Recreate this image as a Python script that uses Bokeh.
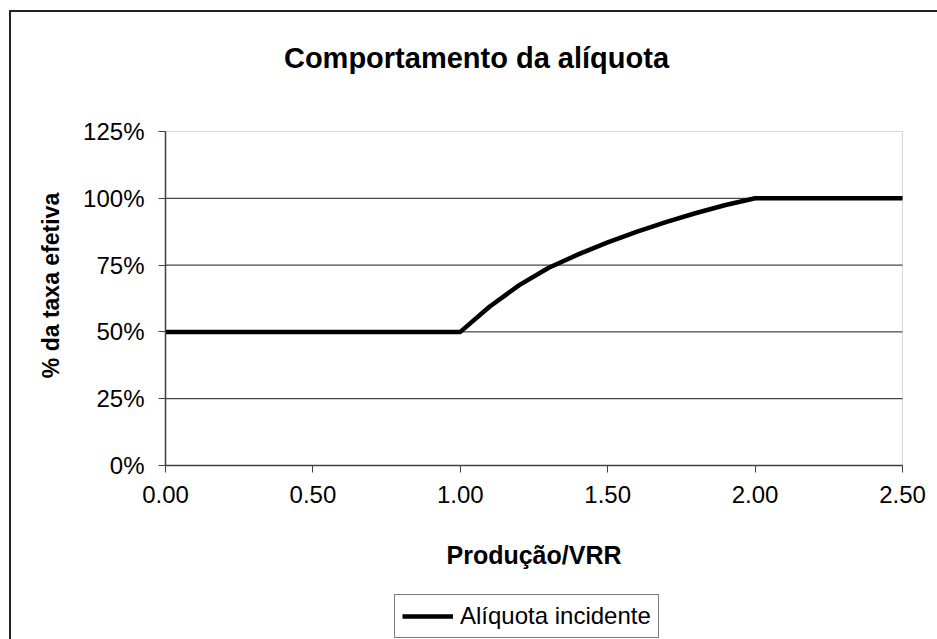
import math

from bokeh.plotting import figure
from bokeh.models import (Range1d, FixedTicker, NumeralTickFormatter,
                          Legend, LegendItem, Label, BoxAnnotation)
from bokeh.embed import file_html
from bokeh.resources import INLINE

# Produção / VRR ratio and the effective share of the tax rate
ratio = [0.0, 0.1, 0.2, 0.3, 0.4, 0.5, 0.6, 0.7, 0.8, 0.9, 1.0,
         1.1, 1.2, 1.3, 1.4, 1.5, 1.6, 1.7, 1.8, 1.9, 2.0,
         2.1, 2.2, 2.3, 2.4, 2.5]
aliquota = [0.50, 0.50, 0.50, 0.50, 0.50, 0.50, 0.50, 0.50, 0.50, 0.50, 0.50,
            0.595, 0.675, 0.740, 0.790, 0.835, 0.875, 0.912, 0.945, 0.975, 1.00,
            1.00, 1.00, 1.00, 1.00, 1.00]

x_ticks = [0.0, 0.5, 1.0, 1.5, 2.0, 2.5]
y_ticks = [0.0, 0.25, 0.50, 0.75, 1.00, 1.25]
grid_ticks = [0.25, 0.50, 0.75, 1.00]
x_lim = (0.0, 2.5)
y_lim = (0.0, 1.25)

title_text = "Comportamento da alíquota"
x_title = "Produção/VRR"
y_title = "% da taxa efetiva"
series_name = "Alíquota incidente"

FONT = "Liberation Sans"

# canvas layout (pixels): the plot area spans x 165..902 and y 131..465,
# the frame covers the whole canvas so titles and legend are not clipped
W, H = 937, 639
PLOT_LEFT, PLOT_RIGHT = 165, 902
PLOT_TOP, PLOT_BOTTOM = 131, 465
ux = (x_lim[1] - x_lim[0]) / (PLOT_RIGHT - PLOT_LEFT)
uy = (y_lim[1] - y_lim[0]) / (PLOT_BOTTOM - PLOT_TOP)
x_range = Range1d(x_lim[0] - PLOT_LEFT * ux, x_lim[1] + (W - PLOT_RIGHT) * ux)
y_range = Range1d(y_lim[0] - (H - PLOT_BOTTOM) * uy, y_lim[1] + PLOT_TOP * uy)

p = figure(width=W, height=H, output_backend="svg", toolbar_location=None,
           x_range=x_range, y_range=y_range,
           min_border_left=0, min_border_right=0,
           min_border_top=0, min_border_bottom=0)
p.title.visible = False
p.background_fill_color = None
p.border_fill_color = None
p.outline_line_color = None

# chart-area frame (left and top edges) painted behind the transparent canvas
p.styles = {
    "background-color": "white",
    "background-image": "linear-gradient(#222222, #222222), "
                        "linear-gradient(#222222, #222222)",
    "background-size": "940px 2px, 2px 640px",
    "background-position": "9px 10px, 9px 10px",
    "background-repeat": "no-repeat",
}

# plot-area border
p.add_layout(BoxAnnotation(left=x_lim[0], right=x_lim[1],
                           bottom=y_lim[0], top=y_lim[1],
                           fill_color=None, line_color="#808080",
                           line_width=1, level="underlay"))

# horizontal gridlines across the plot area only
p.xgrid.visible = False
p.ygrid.visible = False
p.segment(x0=x_lim[0], x1=x_lim[1], y0=grid_ticks, y1=grid_ticks,
          line_color="#1a1a1a", line_width=1)

# axes pinned to the data origin
for ax in (p.xaxis[0], p.yaxis[0]):
    ax.fixed_location = 0
    ax.axis_line_color = "#404040"
    ax.axis_line_width = 1.5
    ax.major_tick_line_color = "#404040"
    ax.major_tick_line_width = 1
    ax.major_tick_in = 0
    ax.major_tick_out = 7
    ax.minor_tick_line_color = None
    ax.major_label_text_font = FONT
    ax.major_label_text_font_size = "24px"
    ax.major_label_text_color = "black"
    ax.major_label_standoff = 13
    ax.axis_label_text_font = FONT
    ax.axis_label_text_font_style = "bold"
    ax.axis_label_text_color = "black"

p.xaxis.bounds = x_lim
p.xaxis.ticker = FixedTicker(ticks=x_ticks)
p.xaxis.formatter = NumeralTickFormatter(format="0.00")
p.xaxis.axis_label = x_title
p.xaxis.axis_label_text_font_size = "25px"
p.xaxis.axis_label_standoff = 35

p.yaxis.bounds = y_lim
p.yaxis.ticker = FixedTicker(ticks=y_ticks)
p.yaxis.formatter = NumeralTickFormatter(format="0%")
p.yaxis.major_label_standoff = 14

# the series
line = p.line(ratio, aliquota, line_color="black", line_width=4.5,
              line_join="round")

# chart title
p.add_layout(Label(x=476, y=57, x_units="canvas", y_units="canvas",
                   text=title_text, text_font=FONT, text_font_size="29px",
                   text_font_style="bold", text_color="black",
                   text_align="center", text_baseline="alphabetic"))

# y axis title
p.add_layout(Label(x=50, y=285, x_units="canvas", y_units="canvas",
                   text=y_title, angle=math.pi / 2, text_font=FONT,
                   text_font_size="23px", text_font_style="bold",
                   text_color="black", text_align="center",
                   text_baseline="alphabetic"))

# legend under the axis title
legend = Legend(items=[LegendItem(label=series_name, renderers=[line])],
                location=(394, 1), orientation="horizontal",
                margin=0, padding=7, spacing=0,
                glyph_width=51, glyph_height=22, label_height=22,
                label_standoff=7,
                label_text_font=FONT, label_text_font_size="24px",
                label_text_color="black",
                border_line_color="black", border_line_width=1,
                background_fill_color="white", background_fill_alpha=1)
p.add_layout(legend, "center")

open("out.html", "w").write(file_html(p, INLINE))
